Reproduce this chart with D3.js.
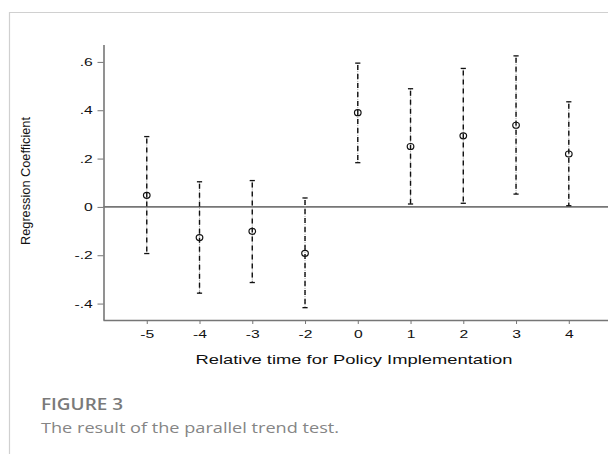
<!DOCTYPE html>
<html>
<head>
<meta charset="utf-8">
<script src="https://cdn.jsdelivr.net/npm/d3@7"></script>
<style>
  html, body { margin: 0; padding: 0; background: #fff; }
  svg { display: block; }
  .axis-title { font-family: "Liberation Sans", Arial, sans-serif; font-size: 13px; fill: #111; }
  .y-title { font-family: "Liberation Sans Narrow", "Liberation Sans", Arial, sans-serif; font-size: 13px; fill: #111; }
  .fig-num { font-family: "Open Sans", "Noto Sans", sans-serif; font-size: 15.5px; font-weight: 600; fill: #7a7a7a; }
  .fig-cap { font-family: "Open Sans", "Noto Sans", sans-serif; font-size: 14px; fill: #858585; }
</style>
</head>
<body>
<div id="chart"></div>
<script>
// Canvas size
const WIDTH = 608;
const HEIGHT = 454;

// Data
const periods = ["-5", "-4", "-3", "-2", "0", "1", "2", "3", "4"];
const coef = [0.048, -0.127, -0.101, -0.192, 0.39, 0.25, 0.294, 0.338, 0.219];
const upper = [0.291, 0.104, 0.109, 0.037, 0.595, 0.489, 0.573, 0.625, 0.435];
const lower = [-0.193, -0.357, -0.313, -0.417, 0.183, 0.012, 0.015, 0.053, 0.005];
const yTicks = [-0.4, -0.2, 0, 0.2, 0.4, 0.6];
const yTickLabels = ["-.4", "-.2", "0", ".2", ".4", ".6"];

const AXIS_COLOR = "#767676";
const CAP = 2.6;
const STRETCH = 1.35; // the original figure is widened horizontally

var svg = d3
  .select("#chart")
  .append("svg")
  .attr("width", WIDTH)
  .attr("height", HEIGHT);

// Page frame lines (left and top)
svg.append("line")
  .attr("x1", 9.5).attr("x2", 9.5).attr("y1", 12).attr("y2", HEIGHT)
  .attr("stroke", "#d0d0d0").attr("stroke-width", 1.2);
svg.append("line")
  .attr("x1", 9.5).attr("x2", WIDTH).attr("y1", 12.5).attr("y2", 12.5)
  .attr("stroke", "#d0d0d0").attr("stroke-width", 1.2);

// Scales
const xIndex = d3.scaleLinear().domain([-0.82, 8.8]).range([103.5, 611]);
const xScale = (p) => xIndex(periods.indexOf(p));

const yScale = d3.scaleLinear().domain([-0.468, 0.67]).range([320, 45]);

// Axes
const yAxis = d3.axisLeft(yScale)
  .tickValues(yTicks)
  .tickSize(6)
  .tickPadding(4)
  .tickFormat((d, i) => yTickLabels[i]);
const yG = svg.append("g").attr("transform", "translate(103.5,0)").call(yAxis);

const xAxis = d3.axisBottom(d3.scalePoint().domain(periods).range([xIndex(0), xIndex(8)]))
  .tickSize(4)
  .tickPadding(6);
const xG = svg.append("g").attr("transform", "translate(0,320)").call(xAxis);

[xG, yG].forEach((g) => {
  g.attr("font-family", "'Liberation Sans', Arial, sans-serif").attr("font-size", 11.6);
  g.select(".domain").attr("stroke", AXIS_COLOR).attr("stroke-width", 1.6);
  g.selectAll(".tick line").attr("stroke", AXIS_COLOR).attr("stroke-width", 1);
  g.selectAll(".tick text").attr("fill", "#111");
});
xG.selectAll(".tick text").attr("transform", "scale(" + STRETCH + ",1)");
yG.selectAll(".tick text")
  .attr("x", 0)
  .attr("transform", "translate(-10.8,0) scale(" + STRETCH + ",1)");

// extend x domain line to right edge and meet y axis
xG.select(".domain").attr("d", "M103.5,0.5H" + WIDTH);
yG.select(".domain").attr("d", "M0.5,45V320.5");

// Zero reference line
svg.append("line")
  .attr("x1", 103.5).attr("x2", WIDTH)
  .attr("y1", yScale(0)).attr("y2", yScale(0))
  .attr("stroke", AXIS_COLOR).attr("stroke-width", 1.6);

// Error bars: gray dotted under black dashes
const bars = svg.append("g").selectAll("g")
  .data(periods)
  .enter()
  .append("g");

bars.append("line")
  .attr("x1", (d) => xScale(d)).attr("x2", (d) => xScale(d))
  .attr("y1", (d, i) => yScale(upper[i])).attr("y2", (d, i) => yScale(lower[i]))
  .attr("stroke", "#9a9a9a").attr("stroke-width", 1).attr("stroke-dasharray", "1,1");

bars.append("line")
  .attr("x1", (d) => xScale(d)).attr("x2", (d) => xScale(d))
  .attr("y1", (d, i) => yScale(upper[i]) + 2).attr("y2", (d, i) => yScale(lower[i]))
  .attr("stroke", "#111").attr("stroke-width", 1.4).attr("stroke-dasharray", "5,4");

// Caps
bars.append("line")
  .attr("x1", (d) => xScale(d) - CAP).attr("x2", (d) => xScale(d) + CAP)
  .attr("y1", (d, i) => yScale(upper[i])).attr("y2", (d, i) => yScale(upper[i]))
  .attr("stroke", "#111").attr("stroke-width", 1.3);
bars.append("line")
  .attr("x1", (d) => xScale(d) - CAP).attr("x2", (d) => xScale(d) + CAP)
  .attr("y1", (d, i) => yScale(lower[i])).attr("y2", (d, i) => yScale(lower[i]))
  .attr("stroke", "#111").attr("stroke-width", 1.3);

// Point estimates (hollow)
bars.append("ellipse")
  .attr("cx", (d) => xScale(d))
  .attr("cy", (d, i) => yScale(coef[i]))
  .attr("rx", 3.3).attr("ry", 3)
  .attr("fill", "none").attr("stroke", "#111").attr("stroke-width", 1.2);

// Axis titles
svg.append("text")
  .attr("class", "y-title")
  .attr("transform", "translate(30,181) rotate(-90)")
  .attr("text-anchor", "middle")
  .attr("textLength", 128)
  .attr("lengthAdjust", "spacingAndGlyphs")
  .text("Regression Coefficient");

svg.append("text")
  .attr("class", "axis-title")
  .attr("x", 354)
  .attr("y", 363.5)
  .attr("text-anchor", "middle")
  .attr("textLength", 317)
  .attr("lengthAdjust", "spacingAndGlyphs")
  .text("Relative time for Policy Implementation");

// Figure caption
svg.append("text")
  .attr("class", "fig-num")
  .attr("x", 41)
  .attr("y", 409.5)
  .attr("textLength", 82)
  .attr("lengthAdjust", "spacingAndGlyphs")
  .text("FIGURE 3");

svg.append("text")
  .attr("class", "fig-cap")
  .attr("x", 41)
  .attr("y", 433)
  .attr("textLength", 298)
  .attr("lengthAdjust", "spacingAndGlyphs")
  .text("The result of the parallel trend test.");
</script>
</body>
</html>
